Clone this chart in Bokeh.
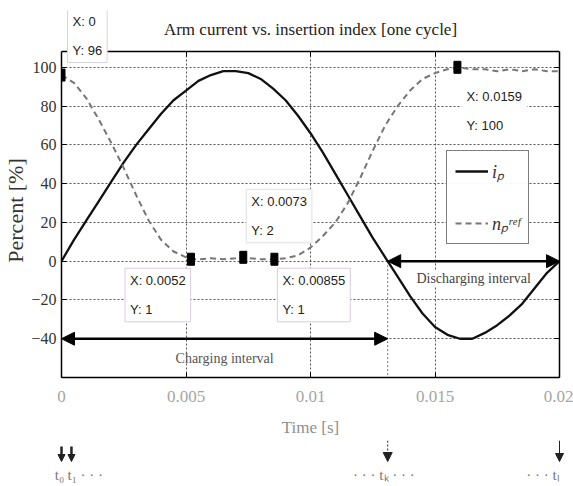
from bokeh.plotting import figure
from bokeh.layouts import column, row
from bokeh.models import (Arrow, NormalHead, Label, LinearAxis, Legend, LegendItem,
                          FixedTicker, Range1d, BoxAnnotation)
from bokeh.embed import file_html
from bokeh.resources import INLINE

# ---------------- data ----------------
TITLE = "Arm current vs. insertion index [one cycle]"
X_LABEL = "Time [s]"
Y_LABEL = "Percent [%]"
x_ticks = [0, 0.005, 0.01, 0.015, 0.02]
x_tick_labels = ["0", "0.005", "0.01", "0.015", "0.02"]
y_ticks = [-40, -20, 0, 20, 40, 60, 80, 100]

t_ip = [0, 0.0005, 0.001, 0.0015, 0.002, 0.0025, 0.003, 0.0035, 0.004, 0.0045,
        0.005, 0.0055, 0.006, 0.0065, 0.007, 0.0075, 0.008, 0.0085, 0.009, 0.0095,
        0.01, 0.0105, 0.011, 0.0115, 0.012, 0.0125, 0.013, 0.0135, 0.014, 0.0145,
        0.015, 0.0155, 0.016, 0.0165, 0.017, 0.0175, 0.018, 0.0185, 0.019, 0.0195, 0.02]
i_p = [0, 11, 21, 31, 41, 51, 60, 68, 76, 83,
       88, 93, 96, 98, 98, 97, 94, 89, 83, 75,
       66, 56, 45, 34, 23, 12, 2, -8, -18, -27,
       -34, -38, -40, -40, -37, -33, -28, -22, -14, -6, 0]

t_np = [0, 0.0005, 0.001, 0.0015, 0.002, 0.0025, 0.003, 0.0035, 0.004, 0.0045,
        0.005, 0.0052, 0.0056, 0.006, 0.0065, 0.007, 0.0073, 0.0076, 0.008, 0.00855,
        0.009, 0.0095, 0.01, 0.0105, 0.011, 0.0115, 0.012, 0.0125, 0.013, 0.0135,
        0.014, 0.0145, 0.015, 0.0155, 0.0159, 0.0165, 0.017, 0.0175, 0.018, 0.0185,
        0.019, 0.0195, 0.02]
n_ref = [96, 92, 84, 73, 61, 48, 34, 21, 11, 5,
         2, 1, 1, 1.5, 1, 1.5, 2, 1.5, 1, 1,
         1.5, 3, 7, 13, 20, 30, 43, 57, 70, 80,
         88, 94, 97, 99, 100, 99, 99, 98, 99, 98,
         99, 98, 98]

tip_x = [0, 0.0052, 0.0073, 0.00855, 0.0159]
tip_y = [96, 1, 2, 1, 100]

t_k = 0.0131          # end of charging interval
t_marks = [0, 0.0004, 0.0131, 0.02]
t_mark_labels = ["t\u2080", "t\u2081  \u00b7 \u00b7 \u00b7",
                 "\u00b7 \u00b7 \u00b7  t\u2096  \u00b7 \u00b7 \u00b7", "\u00b7 \u00b7 \u00b7  t\u2097"]

# ---------------- styling ----------------
SERIF = "Liberation Serif"
SANS = "Liberation Sans"
X0, X1 = 0, 0.02
Y_MIN, Y_MAX = -60, 108          # axes box limits
Y_VIEW_TOP = 129.3               # room above the box for the title and first data tip
NBSP = "\u00a0"
W, H_MAIN, H_STRIP = 573, 440, 46
B_LEFT, B_RIGHT = 61, 14

p = figure(width=W, height=H_MAIN, x_range=Range1d(X0, X1), y_range=Range1d(Y_MIN, Y_VIEW_TOP),
           output_backend="svg", toolbar_location=None, title=None,
           min_border_left=B_LEFT, min_border_right=B_RIGHT, min_border_top=10, min_border_bottom=63,
           background_fill_color="white", border_fill_color="white")
p.outline_line_color = None

xa = p.xaxis[0]
xa.ticker = FixedTicker(ticks=x_ticks)
xa.major_label_overrides = {t: s for t, s in zip(x_ticks, x_tick_labels)}
xa.axis_label = X_LABEL
ya = p.yaxis[0]
ya.ticker = FixedTicker(ticks=y_ticks)
ya.axis_label = Y_LABEL + NBSP * 6
ya.bounds = (Y_MIN, Y_MAX)

for ax in (xa, ya):
    ax.axis_line_color = "black"
    ax.axis_line_width = 1.5
    ax.major_tick_in = 5
    ax.major_tick_out = 0
    ax.minor_tick_line_color = None
    ax.major_tick_line_color = "black"
    ax.major_label_text_font = SERIF
    ax.axis_label_text_font = SERIF
    ax.axis_label_text_font_style = "normal"
xa.major_label_text_font_size = "17px"
xa.major_label_text_color = "#a5a5a5"
xa.major_label_standoff = 13
xa.axis_label_text_font_size = "17px"
xa.axis_label_text_color = "#8f8f8f"
xa.axis_label_standoff = 13
ya.major_label_text_font_size = "16px"
ya.major_label_text_color = "#333333"
ya.major_label_standoff = 5
ya.axis_label_text_font_size = "22px"
ya.axis_label_text_color = "#333333"
ya.axis_label_standoff = 0

# right and top box edges with inward ticks (no labels)
ra = LinearAxis(ticker=FixedTicker(ticks=y_ticks), bounds=(Y_MIN, Y_MAX))
ta = LinearAxis(ticker=FixedTicker(ticks=x_ticks), fixed_location=Y_MAX)
for ax in (ra, ta):
    ax.major_label_text_font_size = "1px"
    ax.major_label_text_color = None
    ax.major_label_standoff = 0
    ax.major_tick_in = 5
    ax.major_tick_out = 0
    ax.minor_tick_line_color = None
    ax.axis_line_color = "black"
    ax.axis_line_width = 1.5
    ax.major_tick_line_color = "black"
p.add_layout(ra, "right")
p.add_layout(ta, "above")

for g in (p.xgrid[0], p.ygrid[0]):
    g.grid_line_color = "#555555"
    g.grid_line_dash = "2 2"
    g.grid_line_width = 1

# blank strip above the axes box (hides grid lines there)
p.add_layout(BoxAnnotation(bottom=Y_MAX, fill_color="white", fill_alpha=1, line_color=None,
                           level="underlay"))

p.add_layout(Label(x=(X0 + X1) / 2, y=Y_MAX, y_offset=22, text=TITLE, text_font=SERIF,
                   text_font_size="17px", text_color="#222222", text_align="center",
                   text_baseline="middle"))

# dotted marker line at t_k inside the axes
p.segment(x0=[t_k], y0=[0], x1=[t_k], y1=[Y_MIN], line_color="#777777", line_dash="2 2", line_width=1)

r_ip = p.line(t_ip, i_p, line_color="#111111", line_width=2.3)
r_np = p.line(t_np, n_ref, line_color="#777777", line_width=2, line_dash="6 4")

p.rect(tip_x, tip_y, width=7, height=12, width_units="screen", height_units="screen",
       fill_color="black", line_color="black")

# data tips: offsets of the box's top-left corner from the marker (px)
tip_offsets = [(6, 66), (-66, -9), (3, 68), (3, -9), (4, -17)]
tip_borders = ["#d6d6d6", "#d9cce6", "#e0e0e0", "#d9cce6", None]
for x, y, (dx, dy), bc in zip(tip_x, tip_y, tip_offsets, tip_borders):
    p.add_layout(Label(x=x, y=y, x_offset=dx, y_offset=dy,
                       text=f"X: {x:g}\nY: {y:g}", text_font=SANS, text_font_size="13px",
                       text_color="#222222", text_line_height=1.9,
                       text_align="left", text_baseline="top",
                       background_fill_color="white", border_line_color=bc,
                       border_line_width=1, padding=5))

# interval arrows
def head(sz, color="black"):
    return NormalHead(size=sz, fill_color=color, line_color=color)

p.add_layout(Arrow(start=head(13), end=head(13), x_start=X0, y_start=-40, x_end=t_k, y_end=-40,
                   line_color="black", line_width=2.5))
p.add_layout(Arrow(start=head(13), end=head(13), x_start=t_k, y_start=0, x_end=X1, y_end=0,
                   line_color="black", line_width=2.5))
p.add_layout(Label(x=t_k / 2, y=-40, y_offset=-20, text="Charging interval", text_font=SERIF,
                   text_font_size="14px", text_color="#555555", text_align="center",
                   text_baseline="middle"))
p.add_layout(Label(x=(t_k + X1) / 2, y=0, y_offset=-17, text="Discharging interval",
                   text_font=SERIF, text_font_size="14px", text_color="#444444",
                   text_align="center", text_baseline="middle", background_fill_color="white"))

# legend
legend = Legend(items=[LegendItem(label="i\u209a", renderers=[r_ip]),
                       LegendItem(label="n\u209a\u02b3\u1d49\u1da0", renderers=[r_np])],
                location=(385, 133), border_line_color="black", border_line_width=1.2,
                background_fill_color="white", label_text_font=SERIF,
                label_text_font_style="italic", label_text_font_size="18px",
                label_text_color="#333333", glyph_width=33, glyph_height=24, label_height=24,
                spacing=28, padding=8, label_standoff=4)
p.add_layout(legend)

# ---------------- sampling instants strip under the time axis ----------------
ppu = (W - B_LEFT - B_RIGHT) / (X1 - X0)      # pixels per second of the main axes
q = figure(width=W, height=H_STRIP,
           x_range=Range1d(X0 - B_LEFT / ppu, X1 + B_RIGHT / ppu), y_range=Range1d(0, H_STRIP),
           output_backend="svg", toolbar_location=None, title=None,
           x_axis_location=None, y_axis_location=None,
           min_border_left=0, min_border_right=0, min_border_top=0, min_border_bottom=0,
           background_fill_color="white", border_fill_color="white")
q.outline_line_color = None
q.xgrid.visible = False
q.ygrid.visible = False

mark_styles = [(40, 2.5, None, 7), (40, 2.5, None, 7), (46, 1, "2 2", 9), (46, 1, None, 8)]
for t, (y0, lw, dash, hs) in zip(t_marks, mark_styles):
    kw = dict(line_color="#222222", line_width=lw)
    if dash:
        kw["line_dash"] = dash
    q.add_layout(Arrow(end=head(hs, "#222222"), x_start=t, y_start=y0, x_end=t, y_end=25, **kw))
aligns = ["center", "left", "center", "right"]
xoffs = [-2, -4, 0, 4]
for t, lab, al, xo in zip(t_marks, t_mark_labels, aligns, xoffs):
    q.add_layout(Label(x=t, y=12, x_offset=xo, text=lab, text_font=SERIF, text_font_size="15px",
                       text_color="#777777", text_align=al, text_baseline="middle"))

layout = column(p, row(q, spacing=0), spacing=0)
open("out.html", "w").write(file_html(layout, INLINE))
